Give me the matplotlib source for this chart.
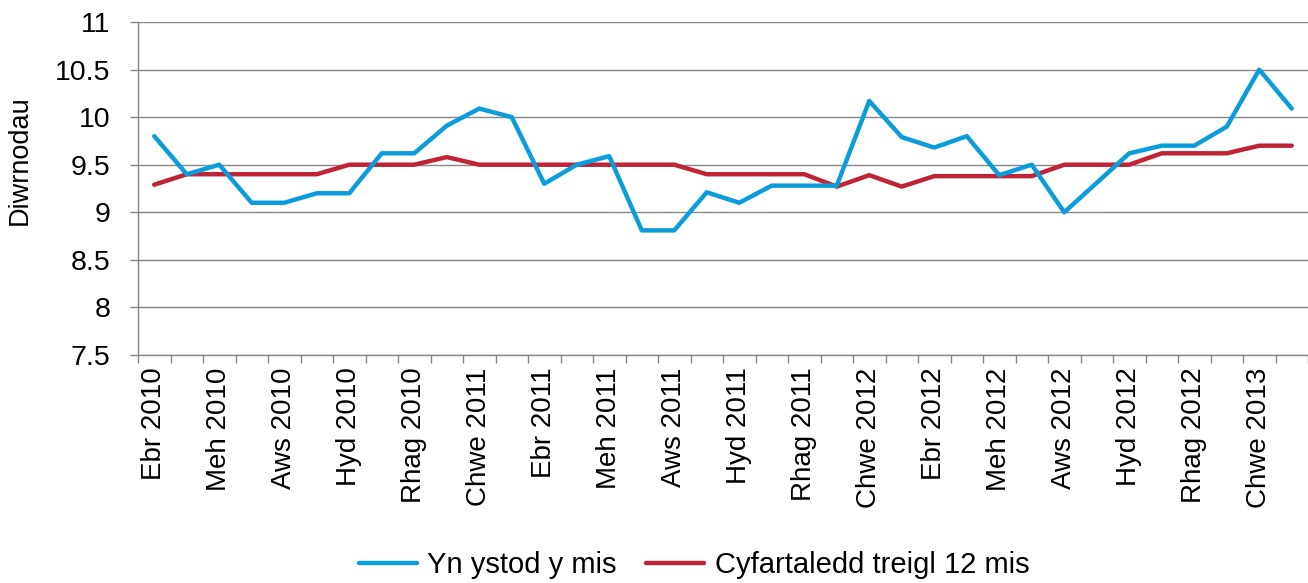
import matplotlib
matplotlib.use("Agg")
import matplotlib.pyplot as plt
import numpy as np

plt.rcParams['font.family'] = ['Liberation Sans', 'DejaVu Sans']

months_cy = ["Ebr", "Mai", "Meh", "Gor", "Aws", "Medi", "Hyd", "Tach", "Rhag", "Ion", "Chwe", "Maw"]
categories = []
for yr0 in [2010, 2011, 2012]:
    for k, m in enumerate(months_cy):
        yr = yr0 if k < 9 else yr0 + 1
        categories.append(f"{m} {yr}")

in_month = [9.8, 9.4, 9.5, 9.1, 9.1, 9.2, 9.2, 9.62, 9.62, 9.91, 10.09, 10.0,
            9.3, 9.5, 9.59, 8.81, 8.81, 9.21, 9.1, 9.28, 9.28, 9.28, 10.17, 9.79,
            9.68, 9.8, 9.39, 9.5, 9.0, 9.31, 9.62, 9.7, 9.7, 9.9, 10.5, 10.09]
rolling12 = [9.29, 9.4, 9.4, 9.4, 9.4, 9.4, 9.5, 9.5, 9.5, 9.58, 9.5, 9.5,
             9.5, 9.5, 9.5, 9.5, 9.5, 9.4, 9.4, 9.4, 9.4, 9.27, 9.39, 9.27,
             9.38, 9.38, 9.38, 9.38, 9.5, 9.5, 9.5, 9.62, 9.62, 9.62, 9.7, 9.7]
yticks = [7.5, 8, 8.5, 9, 9.5, 10, 10.5, 11]
ytick_labels = ["7.5", "8", "8.5", "9", "9.5", "10", "10.5", "11"]

blue = "#0B9DDB"
red = "#BE2436"
grid_c = "#878787"

fig = plt.figure(figsize=(13.08, 5.83), dpi=100)
ax = fig.add_axes([138/1308, 1 - 355/583, 1170/1308, 333/583])

x = np.arange(len(categories))
ax.plot(x, in_month, color=blue, lw=3.2, solid_joinstyle='round', solid_capstyle='round',
        label="Yn ystod y mis", zorder=3)
ax.plot(x, rolling12, color=red, lw=3.2, solid_joinstyle='round', solid_capstyle='round',
        label="Cyfartaledd treigl 12 mis", zorder=2)

ax.set_xlim(-0.5, len(categories) - 0.5)
ax.set_ylim(7.5, 11)
ax.set_yticks(yticks)
ax.set_yticklabels(ytick_labels)

ax.set_xticks(x[::2])
ax.set_xticklabels(categories[::2], rotation=90)
ax.set_xticks(np.arange(-0.5, len(categories), 1.0), minor=True)
ax.tick_params(axis='x', which='major', length=0, pad=9, labelsize=20)
ax.tick_params(axis='x', which='minor', length=5.8, width=1.0, color=grid_c, direction='out')
ax.tick_params(axis='y', length=5.8, width=1.0, color=grid_c, pad=14, labelsize=20.5)

ax.yaxis.grid(True, color=grid_c, lw=1.0)
ax.set_axisbelow(True)
for s in ['top', 'right']:
    ax.spines[s].set_visible(False)
for s in ['left', 'bottom']:
    ax.spines[s].set_color(grid_c)
    ax.spines[s].set_linewidth(1.0)

ax.set_ylabel("Diwrnodau", fontsize=19.5)
ax.yaxis.set_label_coords(-0.0897, 0.586)

leg = fig.legend(loc='center', bbox_to_anchor=(694/1308, 1 - 565/583), ncol=2, frameon=False,
                 fontsize=21, handlelength=2.0, handletextpad=0.35, columnspacing=1.0)

fig.savefig("out.png", dpi=100)
